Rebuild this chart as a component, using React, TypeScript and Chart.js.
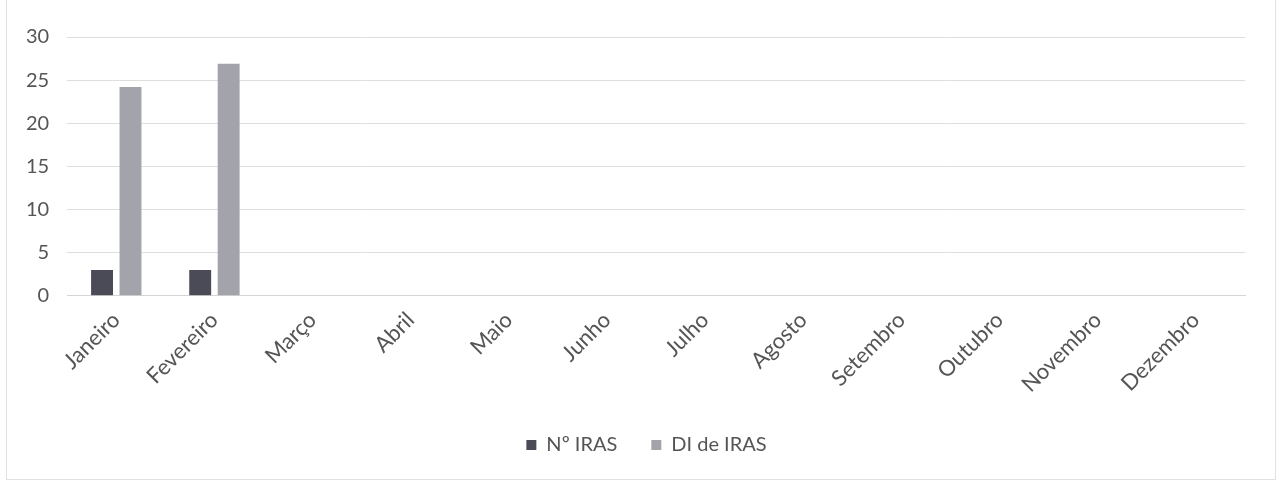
import React, { useEffect, useRef } from "react";
import { Chart, registerables } from "chart.js";

Chart.register(...registerables);

const categories = [
  "Janeiro", "Fevereiro", "Março", "Abril", "Maio", "Junho",
  "Julho", "Agosto", "Setembro", "Outubro", "Novembro", "Dezembro",
];
const nIras = [3, 3, null, null, null, null, null, null, null, null, null, null];
const diIras = [24.2, 26.9, null, null, null, null, null, null, null, null, null, null];
const seriesNames = ["Nº IRAS", "DI de IRAS"];

const shiftLegend = {
  id: "shiftLegend",
  afterLayout(chart: any) {
    const lg = chart.legend;
    if (lg) {
      lg.left += 20;
      lg.right += 20;
    }
  },
};

export default function App() {
  const ref = useRef<HTMLCanvasElement | null>(null);
  useEffect(() => {
    document.body.style.margin = "0";
    const ctx = ref.current!.getContext("2d")!;
    const family = "Lato, 'Open Sans', sans-serif";
    const chart = new Chart(ctx, {
      type: "bar",
      plugins: [shiftLegend],
      data: {
        labels: categories,
        datasets: [
          {
            label: seriesNames[0],
            data: nIras,
            backgroundColor: "#4b4b57",
            barPercentage: 0.77,
            categoryPercentage: 0.58,
          },
          {
            label: seriesNames[1],
            data: diIras,
            backgroundColor: "#a3a3ab",
            barPercentage: 0.77,
            categoryPercentage: 0.58,
          },
        ],
      },
      options: {
        animation: false,
        responsive: false,
        layout: { padding: { left: 8, right: 36, top: 37, bottom: 18 } },
        scales: {
          x: {
            grid: { display: false },
            border: { display: true, color: "#d4d4d4" },
            ticks: {
              color: "#555",
              font: { family, size: 22, lineHeight: 1.37 },
              maxRotation: 45,
              minRotation: 45,
              padding: 2,
            },
          },
          y: {
            min: 0,
            max: 30,
            ticks: { stepSize: 5, color: "#555", font: { family, size: 20 }, padding: 18 },
            grid: { color: "#dedede", drawTicks: false },
            border: { display: false },
          },
        },
        plugins: {
          legend: {
            position: "bottom",
            labels: {
              color: "#555",
              font: { family, size: 20 },
              boxWidth: 10,
              boxHeight: 10,
              padding: 34,
            },
          },
          tooltip: { enabled: false },
        },
      },
    });
    return () => chart.destroy();
  }, []);
  return (
    <div style={{ position: "relative", width: 1281, height: 483, background: "#fff" }}>
      <canvas ref={ref} width={1281} height={483} style={{ position: "absolute", left: 0, top: 0 }} />
      <div
        style={{
          position: "absolute",
          left: 6,
          top: -2,
          width: 1270,
          height: 482,
          border: "1px solid #e2e2e2",
          boxSizing: "border-box",
          pointerEvents: "none",
        }}
      />
    </div>
  );
}
